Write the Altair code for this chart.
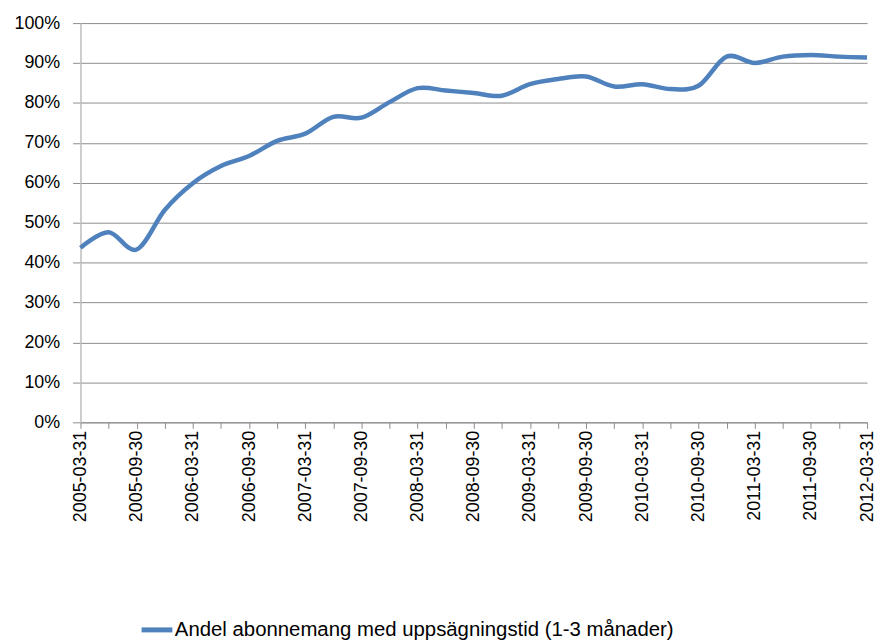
import altair as alt
import pandas as pd

dates = []
for y in range(2005, 2013):
    for md in ["03-31", "06-30", "09-30", "12-31"]:
        d = f"{y}-{md}"
        if d <= "2012-03-31":
            dates.append(d)

values = [43.7, 47.6, 43.3, 53.2, 59.9, 64.2, 66.7, 70.5, 72.3, 76.5,
          76.3, 80.2, 83.7, 83.1, 82.5, 81.8, 84.7, 86.0, 86.6, 84.1,
          84.7, 83.5, 84.3, 91.6, 90.0, 91.6, 92.0, 91.6, 91.4]

series_name = "Andel abonnemang med uppsägningstid (1-3 månader)"

df = pd.DataFrame({
    "date": dates,
    "value": [v / 100 for v in values],
    "series": series_name,
})

FONT = "Liberation Sans"
GRID = "#8c8c8c"

chart = alt.Chart(df).mark_line(
    interpolate="cardinal", strokeWidth=4.5
).encode(
    x=alt.X("date:O", sort=dates,
            scale=alt.Scale(type="point", padding=0),
            axis=alt.Axis(title=None, labelAngle=-90, labelAlign="right",
                          labelBaseline="middle", labelPadding=2,
                          labelExpr="indexof(['" + "','".join(dates) + "'], datum.value) % 2 == 0 ? datum.label : ''",
                          tickSize=6, tickColor=GRID, domainColor=GRID,
                          labelFont=FONT, labelFontSize=18, labelColor="#000000",
                          grid=False, labelOverlap=False)),
    y=alt.Y("value:Q",
            scale=alt.Scale(domain=[0, 1], nice=False, zero=True),
            axis=alt.Axis(title=None, format=".0%", values=[i / 10 for i in range(11)],
                          tickSize=8, tickColor=GRID, gridColor=GRID,
                          domainColor="#bdbdbd", domainWidth=1.5,
                          labelPadding=13,
                          labelFont=FONT, labelFontSize=18, labelColor="#000000")),
    color=alt.Color("series:N",
                    scale=alt.Scale(range=["#4f81bd"]),
                    legend=alt.Legend(title=None, orient="none", legendX=59, legendY=593,
                                      symbolType="stroke", symbolSize=961,
                                      symbolStrokeWidth=5, labelFont=FONT,
                                      labelFontSize=20.5, labelColor="#000000",
                                      labelOffset=0, labelLimit=0)),
).properties(
    width=792, height=402,
    autosize=alt.AutoSizeParams(type="none"),
    padding={"left": 73, "top": 13, "right": 10, "bottom": 219},
).configure_view(stroke=None)

chart.save("out.html", embed_options={"renderer": "svg", "actions": False})
